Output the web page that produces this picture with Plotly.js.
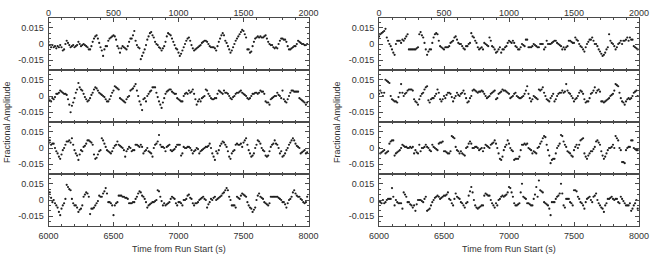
<!DOCTYPE html>
<html>
<head>
<meta charset="utf-8">
<script src="https://cdn.plot.ly/plotly-3.0.1.min.js"></script>
<style>html,body{margin:0;padding:0;background:#fff;}#chart{width:656px;height:256px;}</style>
</head>
<body>
<div id="chart"></div>
<script>
// Sampling of the light curves (seconds)
const sampleStep = 10;
const segmentStarts = [0, 2000, 4000, 6000];
const xTickLabelsTop = [0, 500, 1000, 1500, 2000];
const xTickLabelsBottom = [6000, 6500, 7000, 7500, 8000];
const yTickVals = [-0.015, 0, 0.015];
const yTickText = ['-0.015', '0', '0.015'];

// Left panel, rows top to bottom (fractional amplitude)
const L1 = [2e-3,-1e-3,-3e-3,-1e-3,-3e-3,-2e-3,-4e-3,-2e-3,-3e-3,-1e-3, -3e-3,-6e-3,-5e-3,0,3e-3,1e-3,-1e-3,-3e-3,-2e-3,-1e-3, -3e-3,-2e-3,-1e-3,2e-3,0,-2e-3,-1e-3,0,-1e-3,-2e-3, -3e-3,-5e-3,-5e-3,-2e-3,2e-3,5e-3,7e-3,8e-3,5e-3,1e-3, -3e-3,-6e-3,-11e-3,-5e-3,-2e-3,-2e-3,3e-3,5e-3,6e-3,7e-3, 8e-3,7e-3,4e-3,-2e-3,-4e-3,-8e-3,-4e-3,-2e-3,-3e-3,-4e-3, -5e-3,-2e-3,2e-3,5e-3,5e-3,8e-3,12e-3,3e-3,-1e-3,-3e-3, -4e-3,-14e-3,-11e-3,-8e-3,-5e-3,-1e-3,4e-3,7e-3,10e-3,11e-3, 8e-3,6e-3,2e-3,0,-1e-3,-3e-3,-4e-3,-6e-3,-4e-3,-2e-3, 2e-3,7e-3,10e-3,9e-3,8e-3,5e-3,2e-3,-1e-3,-4e-3,-5e-3, -8e-3,-11e-3,-9e-3,-6e-3,-3e-3,0,3e-3,5e-3,6e-3,3e-3, -1e-3,-4e-3,-6e-3,-5e-3,-4e-3,-3e-3,-2e-3,-1e-3,1e-3,2e-3, 3e-3,3e-3,2e-3,0,-2e-3,-3e-3,-3e-3,-3e-3,-4e-3,-6e-3, -2e-3,2e-3,5e-3,8e-3,10e-3,8e-3,3e-3,1e-3,-2e-3,-5e-3, -8e-3,-6e-3,-3e-3,0,3e-3,5e-3,7e-3,9e-3,11e-3,13e-3, 12e-3,9e-3,6e-3,-5e-3,-5e-3,-8e-3,-7e-3,-2e-3,2e-3,5e-3, 6e-3,7e-3,6e-3,7e-3,6e-3,6e-3,7e-3,8e-3,5e-3,2e-3, 0,-1e-3,-1e-3,-3e-3,-4e-3,-3e-3,-4e-3,0,3e-3,5e-3, 5e-3,4e-3,4e-3,2e-3,-2e-3,-5e-3,-5e-3,-4e-3,-3e-3,-2e-3, -2e-3,0,3e-3,2e-3,1e-3,0,0,-1e-3,-1e-3,0];
const L2 = [-2e-3,-4e-3,-5e-3,-2e-3,-3e-3,-1e-3,2e-3,2e-3,3e-3,5e-3, 4e-3,3e-3,2e-3,2e-3,1e-3,-3e-3,-8e-3,-15e-3,-9e-3,-6e-3, -2e-3,3e-3,6e-3,12e-3,8e-3,6e-3,5e-3,2e-3,-1e-3,-3e-3, -5e-3,-4e-3,-2e-3,1e-3,3e-3,6e-3,8e-3,7e-3,5e-3,3e-3, 2e-3,1e-3,0,-1e-3,-3e-3,-5e-3,-5e-3,-3e-3,0,3e-3, 5e-3,9e-3,8e-3,7e-3,6e-3,-2e-3,-3e-3,-4e-3,-5e-3,-6e-3, -3e-3,-1e-3,0,5e-3,6e-3,7e-3,9e-3,11e-3,5e-3,0, -5e-3,-8e-3,-13e-3,-3e-3,-2e-3,-5e-3,0,2e-3,4e-3,5e-3, 8e-3,8e-3,8e-3,3e-3,-1e-3,-5e-3,-8e-3,-11e-3,-6e-3,-2e-3, 2e-3,4e-3,5e-3,6e-3,6e-3,4e-3,3e-3,2e-3,2e-3,-2e-3, -3e-3,-4e-3,-5e-3,-5e-3,0,2e-3,3e-3,2e-3,5e-3,3e-3, 4e-3,6e-3,2e-3,-3e-3,-8e-3,-5e-3,-3e-3,-5e-3,-2e-3,-1e-3, 0,6e-3,5e-3,2e-3,0,-2e-3,-3e-3,-3e-3,-2e-3,-2e-3, 2e-3,5e-3,4e-3,3e-3,2e-3,5e-3,3e-3,3e-3,2e-3,0, -2e-3,-3e-3,-1e-3,0,2e-3,3e-3,3e-3,4e-3,5e-3,3e-3, 2e-3,1e-3,0,-2e-3,-3e-3,-2e-3,0,2e-3,2e-3,3e-3, 3e-3,2e-3,3e-3,5e-3,4e-3,4e-3,2e-3,-5e-3,-6e-3,-6e-3, -8e-3,-3e-3,-2e-3,-1e-3,0,0,3e-3,1e-3,0,-2e-3, 5e-3,-3e-3,-5e-3,-6e-3,-3e-3,0,3e-3,5e-3,5e-3,4e-3, 4e-3,4e-3,4e-3,-2e-3,-3e-3,-4e-3,-5e-3,-6e-3,-8e-3,-6e-3];
const L3 = [4e-3,7e-3,3e-3,4e-3,4e-3,0,-3e-3,-5e-3,-8e-3,-10e-3, -6e-3,-2e-3,0,3e-3,6e-3,6e-3,7e-3,5e-3,9e-3,3e-3, -2e-3,-5e-3,-7e-3,-11e-3,-6e-3,-2e-3,-3e-3,1e-3,2e-3,4e-3, 7e-3,7e-3,6e-3,5e-3,3e-3,-6e-3,-10e-3,-9e-3,-6e-3,-3e-3, -2e-3,9e-3,7e-3,4e-3,1e-3,-2e-3,-3e-3,-4e-3,-5e-3,-3e-3, 0,2e-3,3e-3,6e-3,3e-3,2e-3,1e-3,0,-2e-3,-8e-3, -3e-3,-1e-3,1e-3,0,-3e-3,-2e-3,-2e-3,3e-3,3e-3,2e-3, 1e-3,3e-3,1e-3,-5e-3,-3e-3,-2e-3,0,-3e-3,-4e-3,-5e-3, -8e-3,0,3e-3,4e-3,6e-3,12e-3,3e-3,1e-3,1e-3,0, -3e-3,1e-3,2e-3,3e-3,-2e-3,-3e-3,-2e-3,-1e-3,1e-3,3e-3, 3e-3,3e-3,-7e-3,-5e-3,1e-3,0,0,1e-3,1e-3,0, -2e-3,-5e-3,-3e-3,-2e-3,0,-1e-3,-5e-3,-3e-3,-2e-3,-1e-3, 0,1e-3,1e-3,2e-3,4e-3,0,-5e-3,-8e-3,-11e-3,-3e-3, -5e-3,-2e-3,2e-3,4e-3,6e-3,5e-3,3e-3,1e-3,-3e-3,-8e-3, -10e-3,-5e-3,-3e-3,-2e-3,3e-3,4e-3,3e-3,3e-3,4e-3,1e-3, 5e-3,7e-3,9e-3,3e-3,-2e-3,-5e-3,-8e-3,-7e-3,-5e-3,0, 3e-3,7e-3,6e-3,4e-3,0,-2e-3,-3e-3,-7e-3,-8e-3,-7e-3, -3e-3,1e-3,3e-3,4e-3,7e-3,4e-3,3e-3,0,-5e-3,-3e-3, -8e-3,-7e-3,-5e-3,-2e-3,0,3e-3,5e-3,7e-3,9e-3,7e-3, 4e-3,2e-3,1e-3,0,-5e-3,-4e-3,-3e-3,-2e-3,-5e-3,-4e-3];
const L4 = [3e-3,7e-3,2e-3,-2e-3,0,-3e-3,-5e-3,-7e-3,-11e-3,-14e-3, -8e-3,-5e-3,-3e-3,1e-3,14e-3,12e-3,10e-3,9e-3,1e-3,-3e-3, -5e-3,-5e-3,-7e-3,-11e-3,-9e-3,-8e-3,-5e-3,3e-3,5e-3,7e-3, 6e-3,3e-3,-13e-3,-8e-3,-8e-3,-7e-3,-5e-3,-3e-3,-1e-3,4e-3, 3e-3,3e-3,6e-3,8e-3,11e-3,6e-3,-2e-3,-2e-3,-3e-3,-5e-3, -14e-3,-5e-3,-3e-3,-2e-3,4e-3,4e-3,4e-3,3e-3,3e-3,2e-3, 2e-3,1e-3,-3e-3,-3e-3,-3e-3,-2e-3,-2e-3,1e-3,3e-3,6e-3, 8e-3,7e-3,4e-3,3e-3,1e-3,-2e-3,-7e-3,-5e-3,-4e-3,-3e-3, -2e-3,-2e-3,-1e-3,0,9e-3,8e-3,3e-3,-1e-3,-5e-3,-3e-3, -5e-3,-4e-3,-3e-3,-2e-3,1e-3,3e-3,2e-3,1e-3,-3e-3,-5e-3, -2e-3,-2e-3,-3e-3,-5e-3,0,0,1e-3,4e-3,5e-3,2e-3, 1e-3,-3e-3,-5e-3,-3e-3,-3e-3,-2e-3,0,1e-3,2e-3,3e-3, 1e-3,0,-7e-3,-4e-3,-2e-3,1e-3,0,2e-3,3e-3,0, 1e-3,2e-3,3e-3,4e-3,6e-3,7e-3,9e-3,11e-3,9e-3,3e-3, 0,-5e-3,-5e-3,-5e-3,-7e-3,3e-3,2e-3,1e-3,4e-3,6e-3, 5e-3,4e-3,3e-3,-2e-3,-5e-3,-7e-3,-8e-3,-11e-3,-9e-3,-7e-3, 0,4e-3,6e-3,3e-3,2e-3,1e-3,-2e-3,-3e-3,-4e-3,-5e-3, -3e-3,3e-3,3e-3,3e-3,3e-3,3e-3,3e-3,2e-3,1e-3,0, -2e-3,-2e-3,-4e-3,-7e-3,-3e-3,0,1e-3,3e-3,7e-3,9e-3, 6e-3,4e-3,3e-3,3e-3,1e-3,0,-2e-3,-3e-3,-2e-3,3e-3];

// Right panel, rows top to bottom (fractional amplitude)
const R1 = [7e-3,9e-3,10e-3,11e-3,12e-3,14e-3,6e-3,3e-3,0,-2e-3, -5e-3,-8e-3,-10e-3,0,3e-3,3e-3,3e-3,1e-3,4e-3,3e-3, 5e-3,7e-3,9e-3,-5e-3,-5e-3,-5e-3,-5e-3,-5e-3,-5e-3,-4e-3, -3e-3,9e-3,11e-3,8e-3,6e-3,1e-3,-5e-3,-10e-3,-7e-3,-5e-3, -5e-3,1e-3,6e-3,9e-3,10e-3,9e-3,3e-3,-2e-3,-3e-3,-4e-3, -5e-3,-3e-3,-3e-3,-3e-3,-2e-3,1e-3,2e-3,3e-3,6e-3,7e-3, 4e-3,1e-3,0,0,-2e-3,-4e-3,-5e-3,-2e-3,-2e-3,0, 1e-3,10e-3,7e-3,6e-3,3e-3,1e-3,-3e-3,-5e-3,-4e-3,-3e-3, -5e-3,1e-3,0,-1e-3,-2e-3,6e-3,3e-3,-2e-3,-3e-3,-5e-3, -8e-3,-7e-3,-5e-3,-3e-3,-8e-3,-5e-3,-5e-3,-3e-3,-2e-3,1e-3, 3e-3,2e-3,1e-3,3e-3,1e-3,-2e-3,-3e-3,-5e-3,-5e-3,-3e-3, 0,-1e-3,-2e-3,4e-3,4e-3,-3e-3,-3e-3,-3e-3,-2e-3,0, -1e-3,-2e-3,-3e-3,-3e-3,0,0,0,-5e-3,-3e-3,3e-3, 0,0,0,1e-3,2e-3,3e-3,3e-3,1e-3,0,-1e-3, -2e-3,-5e-3,-3e-3,-5e-3,-3e-3,-2e-3,3e-3,3e-3,2e-3,1e-3, 1e-3,6e-3,4e-3,3e-3,0,-2e-3,-3e-3,-5e-3,-7e-3,-3e-3, 0,2e-3,4e-3,4e-3,6e-3,3e-3,0,0,-2e-3,-5e-3, -7e-3,-9e-3,-11e-3,-10e-3,-8e-3,-5e-3,-3e-3,9e-3,3e-3,1e-3, 0,-2e-3,-5e-3,-3e-3,0,1e-3,3e-3,0,3e-3,3e-3, 4e-3,6e-3,3e-3,6e-3,4e-3,4e-3,-2e-3,-3e-3,-4e-3,-5e-3];
const R2 = [2e-3,5e-3,3e-3,0,3e-3,15e-3,14e-3,13e-3,12e-3,0, -3e-3,-4e-3,-5e-3,-5e-3,-6e-3,-1e-3,3e-3,11e-3,3e-3,0, 2e-3,3e-3,5e-3,6e-3,6e-3,6e-3,5e-3,-3e-3,-5e-3,-6e-3, -8e-3,-3e-3,0,2e-3,3e-3,6e-3,8e-3,9e-3,-4e-3,-6e-3, -3e-3,-2e-3,-2e-3,0,2e-3,6e-3,3e-3,-3e-3,-5e-3,-3e-3, 0,-2e-3,1e-3,3e-3,3e-3,2e-3,-1e-3,-5e-3,-2e-3,0, 3e-3,1e-3,0,2e-3,3e-3,5e-3,2e-3,-2e-3,-6e-3,-5e-3, -2e-3,0,5e-3,6e-3,5e-3,4e-3,3e-3,4e-3,4e-3,5e-3, 4e-3,2e-3,0,-2e-3,-1e-3,0,2e-3,3e-3,4e-3,5e-3, -3e-3,-2e-3,2e-3,3e-3,4e-3,6e-3,5e-3,5e-3,4e-3,3e-3, 2e-3,-2e-3,-1e-3,0,2e-3,3e-3,0,-1e-3,-2e-3,-2e-3, -1e-3,0,2e-3,5e-3,9e-3,2e-3,-2e-3,-5e-3,-3e-3,0, -1e-3,-2e-3,-3e-3,6e-3,5e-3,6e-3,8e-3,3e-3,0,-3e-3, -4e-3,-5e-3,-2e-3,0,2e-3,-5e-3,-3e-3,0,2e-3,3e-3, 3e-3,5e-3,3e-3,4e-3,11e-3,5e-3,3e-3,2e-3,0,-2e-3, -5e-3,-3e-3,-2e-3,0,3e-3,5e-3,4e-3,2e-3,-3e-3,-6e-3, -5e-3,-5e-3,-2e-3,2e-3,3e-3,5e-3,8e-3,3e-3,5e-3,6e-3, 4e-3,-5e-3,-5e-3,-6e-3,-5e-3,-4e-3,-3e-3,-2e-3,0,1e-3, 2e-3,5e-3,11e-3,10e-3,9e-3,3e-3,-2e-3,-5e-3,-6e-3,-8e-3, -5e-3,-3e-3,-2e-3,-3e-3,-2e-3,0,3e-3,4e-3,5e-3,0];
const R3 = [0,-5e-3,-4e-3,-3e-3,-2e-3,-5e-3,-4e-3,-3e-3,4e-3,6e-3, 7e-3,7e-3,-7e-3,-5e-3,-4e-3,-3e-3,-2e-3,0,3e-3,2e-3, 1e-3,1e-3,0,0,1e-3,0,1e-3,-5e-3,-2e-3,-4e-3, -5e-3,3e-3,-3e-3,0,0,1e-3,3e-3,1e-3,0,-2e-3, -3e-3,3e-3,1e-3,0,-1e-3,-2e-3,4e-3,5e-3,5e-3,6e-3, -3e-3,-3e-3,-4e-3,-5e-3,-5e-3,-3e-3,11e-3,10e-3,9e-3,1e-3, -2e-3,-3e-3,-5e-3,-3e-3,-5e-3,-6e-3,-7e-3,0,1e-3,4e-3, 6e-3,4e-3,0,0,1e-3,1e-3,0,-2e-3,-1e-3,0, -3e-3,0,3e-3,2e-3,1e-3,0,3e-3,4e-3,5e-3,7e-3, 4e-3,0,-5e-3,-10e-3,-11e-3,-8e-3,-2e-3,1e-3,3e-3,7e-3, 4e-3,0,-2e-3,-3e-3,-11e-3,-10e-3,-10e-3,-10e-3,-8e-3,-2e-3, 3e-3,3e-3,4e-3,3e-3,4e-3,0,-1e-3,-2e-3,-5e-3,-3e-3, -4e-3,-5e-3,0,1e-3,4e-3,6e-3,9e-3,11e-3,10e-3,3e-3, -2e-3,-7e-3,-14e-3,-11e-3,-10e-3,-10e-3,-5e-3,0,2e-3,4e-3, 12e-3,11e-3,6e-3,3e-3,1e-3,-3e-3,-4e-3,-5e-3,-7e-3,-8e-3, -2e-3,1e-3,3e-3,0,3e-3,7e-3,8e-3,9e-3,-5e-3,-8e-3, -10e-3,-7e-3,-5e-3,-3e-3,-3e-3,-1e-3,1e-3,6e-3,7e-3,5e-3, 3e-3,-3e-3,-7e-3,-10e-3,-8e-3,-5e-3,-2e-3,0,0,1e-3, 3e-3,0,11e-3,9e-3,7e-3,0,-2e-3,-13e-3,-13e-3,-14e-3, -2e-3,0,1e-3,1e-3,7e-3,7e-3,0,-1e-3,-2e-3,-2e-3];
const R4 = [-1e-3,-2e-3,-3e-3,0,-3e-3,-2e-3,0,1e-3,1e-3,1e-3, 11e-3,3e-3,-5e-3,0,-2e-3,-3e-3,-3e-3,-3e-3,-8e-3,7e-3, 5e-3,3e-3,-2e-3,-2e-3,-4e-3,-5e-3,-7e-3,-5e-3,-10e-3,-4e-3, 0,0,0,-1e-3,-2e-3,1e-3,3e-3,-10e-3,-9e-3,-8e-3, -5e-3,-2e-3,0,2e-3,3e-3,4e-3,3e-3,1e-3,2e-3,3e-3, 4e-3,4e-3,5e-3,7e-3,1e-3,0,-3e-3,-5e-3,1e-3,6e-3, 3e-3,2e-3,1e-3,-2e-3,-3e-3,-5e-3,-7e-3,-3e-3,-2e-3,4e-3, 8e-3,12e-3,7e-3,0,-5e-3,-7e-3,-8e-3,-7e-3,-6e-3,-5e-3, -5e-3,4e-3,6e-3,5e-3,4e-3,4e-3,0,-3e-3,-5e-3,-7e-3, -3e-3,-5e-3,0,1e-3,3e-3,4e-3,3e-3,4e-3,5e-3,7e-3, 12e-3,11e-3,7e-3,3e-3,-3e-3,-5e-3,-5e-3,-4e-3,-3e-3,7e-3, 15e-3,3e-3,2e-3,1e-3,-3e-3,-3e-3,-4e-3,-5e-3,-5e-3,1e-3, 5e-3,12e-3,3e-3,18e-3,9e-3,8e-3,7e-3,-2e-3,-3e-3,-4e-3, -5e-3,-8e-3,-14e-3,-2e-3,-2e-3,-2e-3,1e-3,3e-3,4e-3,6e-3, 15e-3,6e-3,-5e-3,-7e-3,1e-3,1e-3,1e-3,-2e-3,-3e-3,-5e-3, 9e-3,9e-3,8e-3,3e-3,1e-3,-2e-3,-3e-3,-5e-3,-8e-3,-2e-3, 1e-3,2e-3,3e-3,0,-2e-3,3e-3,4e-3,6e-3,0,-3e-3, -5e-3,-7e-3,-8e-3,-11e-3,-5e-3,-3e-3,1e-3,1e-3,2e-3,3e-3, 1e-3,0,1e-3,1e-3,-2e-3,-3e-3,3e-3,1e-3,-1e-3,-3e-3, -5e-3,-5e-3,-5e-3,-3e-3,-10e-3,-8e-3,-5e-3,-3e-3,0,-8e-3];

const panels = [[L1, L2, L3, L4], [R1, R2, R3, R4]];

// ---- layout geometry (pixels) ----
const W = 656, H = 256;
const panelX = [[48.5, 308.5], [379, 639]];
const rowTop = 18, rowH = 52;
const axisColor = '#4a4a4a';
const textColor = '#333';
const fontFam = 'Liberation Sans, Arial, Helvetica, sans-serif';

const traces = [];
const layout = {
  width: W, height: H,
  margin: {l: 0, r: 0, t: 0, b: 0},
  paper_bgcolor: '#fff', plot_bgcolor: '#fff',
  showlegend: false,
  font: {family: fontFam, size: 9, color: textColor},
  annotations: []
};

let idx = 0;
panels.forEach((rows, p) => {
  rows.forEach((vals, r) => {
    idx++;
    const sx = idx === 1 ? '' : String(idx);
    const start = segmentStarts[r];
    const times = vals.map((_, k) => start + k * sampleStep);
    traces.push({
      type: 'scatter', mode: 'markers',
      x: times, y: vals,
      xaxis: 'x' + sx, yaxis: 'y' + sx,
      marker: {size: 2.2, color: '#1e1e1e'},
      hoverinfo: 'skip'
    });
    const top = rowTop + r * rowH, bot = top + rowH;
    const isTop = r === 0, isBot = r === rows.length - 1;
    layout['xaxis' + sx] = {
      domain: [panelX[p][0] / W, panelX[p][1] / W],
      anchor: 'y' + sx,
      range: [start, start + 2000],
      tickmode: 'array',
      tickvals: (isTop ? xTickLabelsTop : xTickLabelsBottom).map(v => v - (isTop ? 0 : 6000) + start),
      ticktext: (isTop ? xTickLabelsTop : xTickLabelsBottom).map(String),
      showticklabels: isTop || isBot,
      side: isTop ? 'top' : 'bottom',
      ticks: 'inside', ticklen: 4, tickwidth: 1, tickcolor: axisColor,
      minor: {tickmode: 'linear', tick0: 0, dtick: 100, ticks: 'inside', ticklen: 2, tickwidth: 1, tickcolor: axisColor},
      showline: true, linecolor: axisColor, linewidth: 1, mirror: 'allticks',
      showgrid: false, zeroline: false,
      tickfont: {family: fontFam, size: 9, color: textColor},
      ticklabelstandoff: isTop ? -3 : 1,
      fixedrange: true
    };
    layout['yaxis' + sx] = {
      domain: [1 - bot / H, 1 - top / H],
      anchor: 'x' + sx,
      range: [-0.024, 0.024],
      tickmode: 'array', tickvals: yTickVals, ticktext: yTickText,
      ticks: 'inside', ticklen: 4, tickwidth: 1, tickcolor: axisColor,
      minor: {tickmode: 'linear', tick0: 0, dtick: 0.005, ticks: 'inside', ticklen: 2, tickwidth: 1, tickcolor: axisColor},
      showline: true, linecolor: axisColor, linewidth: 1, mirror: 'allticks',
      showgrid: false, zeroline: false,
      tickfont: {family: fontFam, size: 9, color: textColor},
      ticklabelstandoff: 2,
      fixedrange: true
    };
  });
  const cx = (panelX[p][0] + panelX[p][1]) / 2;
  layout.annotations.push({
    text: 'Time from Run Start (s)', xref: 'paper', yref: 'paper',
    x: cx / W, y: 1 - 249 / H, xanchor: 'center', yanchor: 'middle',
    showarrow: false, font: {family: fontFam, size: 9, color: textColor}
  });
  layout.annotations.push({
    text: 'Fractional Amplitude', xref: 'paper', yref: 'paper',
    x: (p === 0 ? 7 : 337) / W, y: 1 - 122 / H, xanchor: 'center', yanchor: 'middle',
    textangle: -90, showarrow: false, font: {family: fontFam, size: 9, color: textColor}
  });
});

Plotly.newPlot('chart', traces, layout, {staticPlot: true, displayModeBar: false});
</script>
</body>
</html>
